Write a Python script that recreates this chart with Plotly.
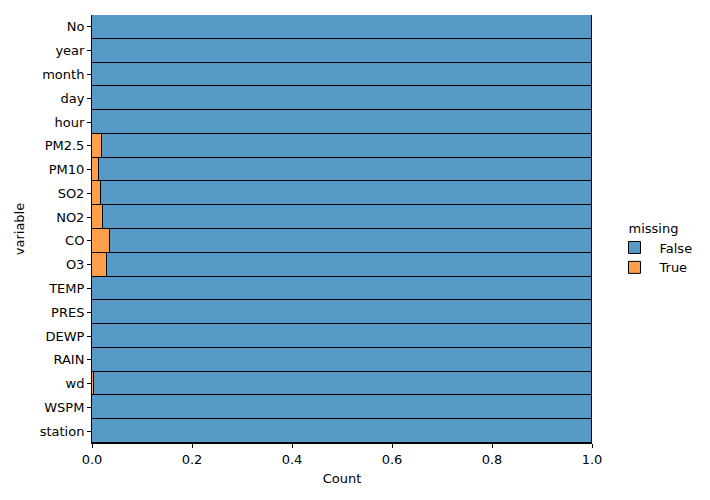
import plotly.graph_objects as go

variables = ["No", "year", "month", "day", "hour", "PM2.5", "PM10", "SO2", "NO2",
             "CO", "O3", "TEMP", "PRES", "DEWP", "RAIN", "wd", "WSPM", "station"]
missing_true = [0, 0, 0, 0, 0, 0.020, 0.014, 0.018, 0.022,
                0.036, 0.030, 0, 0, 0, 0, 0.003, 0, 0]
missing_false = [1 - v for v in missing_true]
x_ticks = [0.0, 0.2, 0.4, 0.6, 0.8, 1.0]
x_tick_labels = ["0.0", "0.2", "0.4", "0.6", "0.8", "1.0"]

fig = go.Figure()
fig.add_trace(go.Bar(y=variables, x=missing_true, orientation="h", name="True",
                     marker=dict(color="#FF9F4A", line=dict(color="black", width=1)),
                     width=1, legendrank=2))
fig.add_trace(go.Bar(y=variables, x=missing_false, orientation="h", name="False",
                     marker=dict(color="#5799C7", line=dict(color="black", width=1)),
                     width=1, legendrank=1))

font = dict(family="DejaVu Sans", size=13, color="black")
fig.update_layout(
    width=710, height=500,
    margin=dict(l=92, r=118, t=15, b=57),
    barmode="stack", bargap=0,
    plot_bgcolor="white", paper_bgcolor="white",
    font=font,
    showlegend=True,
    legend=dict(title=dict(text="missing", side="top center", font=font),
                x=1.035, y=0.453, itemwidth=40,
                xanchor="left", yanchor="middle", font=font,
                bgcolor="rgba(0,0,0,0)", traceorder="normal"),
    xaxis=dict(range=[0, 1], tickvals=x_ticks, ticktext=x_tick_labels,
               showgrid=False, zeroline=False, showline=True, linecolor="black",
               linewidth=1, ticks="outside", ticklen=4, tickcolor="black",
               tickfont=font,
               title=dict(text="Count", standoff=8, font=font)),
    yaxis=dict(autorange=False, range=[17.5, -0.5], showgrid=False, zeroline=False,
               showline=True, linecolor="black", linewidth=1, ticks="outside",
               ticklen=4, tickcolor="black", tickfont=font,
               title=dict(text="variable", standoff=12, font=font)),
)
fig.write_html("out.html")
